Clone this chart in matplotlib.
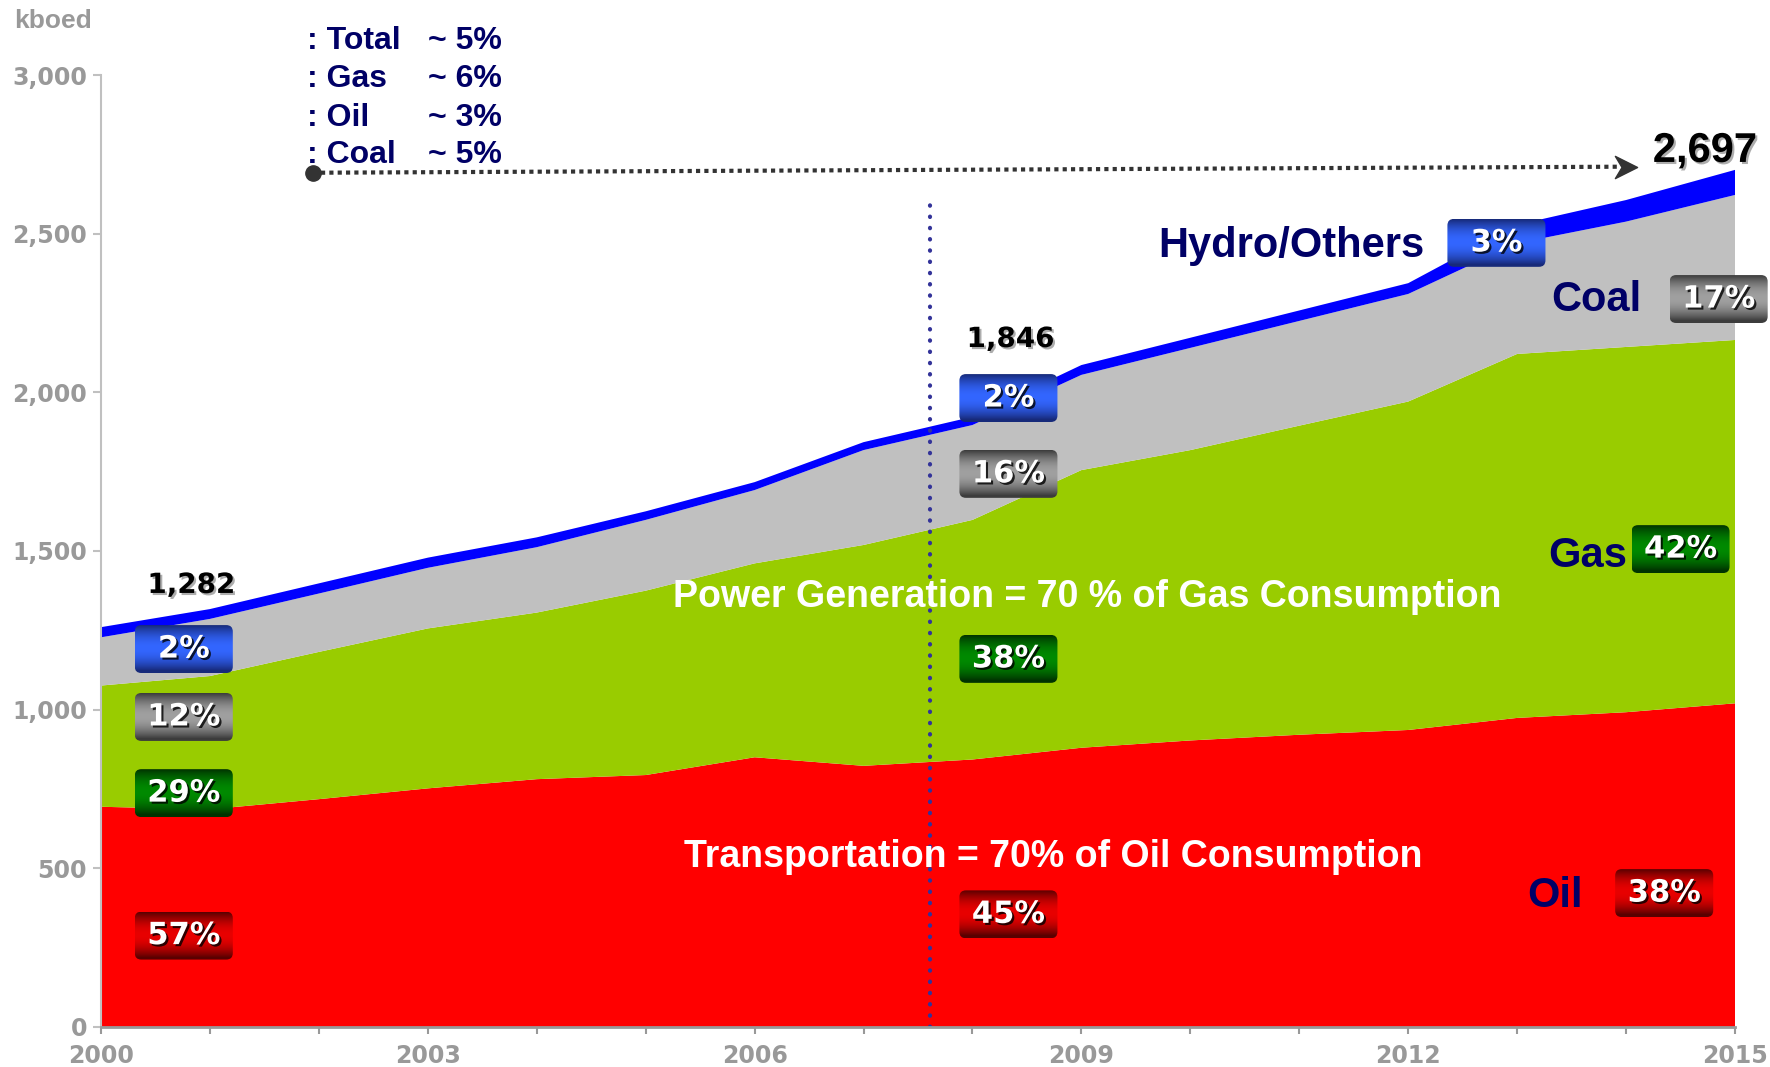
import numpy as np
import matplotlib
matplotlib.use('Agg')
import matplotlib.pyplot as plt
import matplotlib.patheffects as pe
from matplotlib.patches import FancyBboxPatch
from matplotlib.path import Path
from matplotlib.colors import to_rgb

# consumption by fuel, kboed (stacked: oil, gas, coal, hydro/others)
years = np.arange(2000, 2016)
oil = [694, 686, 718, 752, 781, 794, 850, 823, 843, 880, 903, 921, 936, 974, 992, 1020]
gas = [382, 420, 464, 504, 525, 581, 611, 696, 755, 875, 915, 974, 1035, 1147, 1151, 1145]
coal = [152, 180, 184, 191, 206, 223, 231, 299, 299, 300, 322, 330, 339, 349, 395, 457]
hydro = [32, 31, 32, 32, 31, 27, 25, 25, 26, 31, 32, 33, 34, 58, 68, 79]

# share badges (2000, 2008, 2015)
badge_text = ['57%', '29%', '12%', '2%', '45%', '38%', '16%', '2%', '38%', '42%', '17%', '3%']
badge_kind = ['oil', 'gas', 'coal', 'hydro'] * 3
total_labels = ['1,282', '1,846', '2,697']

growth_names = [': Total', ': Gas', ': Oil', ': Coal']
growth_vals = ['~ 5%', '~ 6%', '~ 3%', '~ 5%']

fill_col = {'oil': '#ff0000', 'gas': '#99cc00', 'coal': '#c0c0c0', 'hydro': '#0000ff'}
badge_col = {'oil': ('#5a0000', '#e80000'), 'gas': ('#003300', '#008a00'),
             'coal': ('#3c3c3c', '#a0a0a0'), 'hydro': ('#172a7a', '#3366ff')}
navy = '#000066'

fig = plt.figure(figsize=(17.7, 10.67), dpi=100)
ax = fig.add_axes([101 / 1770, 1 - 1027 / 1067, 1634 / 1770, 952 / 1067])

ax.stackplot(years, oil, gas, coal, hydro,
             colors=[fill_col['oil'], fill_col['gas'], fill_col['coal'], fill_col['hydro']],
             linewidth=0, zorder=1)

# vertical dotted marker line
ax.plot([2007.61, 2007.61], [0, 2614], color='#333399', lw=3, ls=(0, (0.1, 2.6)),
        dash_capstyle='round', zorder=3)

# badges
bx = [2000.76] * 4 + [2008.33] * 4 + [2014.35, 2014.50, 2014.85, 2012.81]
by = [288, 737, 977, 1191, 355, 1160, 1743, 1982, 422, 1506, 2294, 2471]
bw, bh = 0.9, 151
aspect = 3.1513 * 108.93
t = np.linspace(0, 1, 64)
prof = np.sin(np.pi * np.clip(t * 1.05, 0, 1)) ** 0.9
for txt, kind, x, y in zip(badge_text, badge_kind, bx, by):
    dark, light = np.array(to_rgb(badge_col[kind][0])), np.array(to_rgb(badge_col[kind][1]))
    grad = dark[None, :] + (light - dark)[None, :] * prof[:, None]
    grad = grad[:, None, :]
    patch = FancyBboxPatch((x - bw / 2, y - bh / 2), bw, bh,
                           boxstyle='round,pad=0,rounding_size=0.06',
                           mutation_aspect=aspect, transform=ax.transData,
                           facecolor='none', edgecolor='none')
    ax.add_patch(patch)
    im = ax.imshow(grad, extent=(x - bw / 2, x + bw / 2, y - bh / 2, y + bh / 2),
                   aspect='auto', origin='upper', zorder=5, interpolation='bilinear')
    im.set_clip_box(fig.bbox)
    im.set_clip_path(patch)
    ax.text(x, y, txt, ha='center', va='center', color='white', fontsize=22,
            fontweight='bold', family='DejaVu Sans', zorder=6, clip_on=False,
            path_effects=[pe.withSimplePatchShadow(offset=(1.5, -1.5), shadow_rgbFace='black', alpha=0.8)])

# fuel names
lab_font = dict(family='Liberation Sans', fontweight='bold', fontsize=30, color=navy, va='baseline', ha='right')
ax.text(2012.15, 2425, 'Hydro/Others', **lab_font)
ax.text(2014.14, 2257, 'Coal', **lab_font)
ax.text(2014.01, 1451, 'Gas', **lab_font)
ax.text(2013.60, 377, 'Oil', **lab_font)

# in-area notes
ax.text(2009.05, 1324, 'Power Generation = 70 % of Gas Consumption', color='white', fontsize=27,
        fontweight='bold', family='Liberation Sans', ha='center', va='baseline', zorder=4)
ax.text(2008.74, 505, 'Transportation = 70% of Oil Consumption', color='white', fontsize=27,
        fontweight='bold', family='Liberation Sans', ha='center', va='baseline', zorder=4)

# totals
shadow = [pe.withSimplePatchShadow(offset=(1.5, -1.5), shadow_rgbFace='#999999', alpha=0.8)]
ax.text(2000.83, 1393, total_labels[0], ha='center', va='center', fontsize=20, fontweight='bold',
        family='DejaVu Sans', color='black', path_effects=shadow)
ax.text(2008.35, 2168, total_labels[1], ha='center', va='center', fontsize=20, fontweight='bold',
        family='DejaVu Sans', color='black', path_effects=shadow)
ax.text(2015.2, 2726, total_labels[2], ha='right', va='baseline', fontsize=30, fontweight='bold',
        family='Liberation Sans', color='black', path_effects=shadow, clip_on=False)

# growth block
gy = [3081, 2961, 2839, 2724]
for name, val, yy in zip(growth_names, growth_vals, gy):
    ax.text(2001.89, yy, name, ha='left', va='baseline', fontsize=23, fontweight='bold',
            family='Liberation Sans', color=navy, clip_on=False)
    ax.text(2003.68, yy, val, ha='right', va='baseline', fontsize=23, fontweight='bold',
            family='Liberation Sans', color=navy, clip_on=False)

# dotted arrow
ax.plot([2001.943, 2013.95], [2692, 2711], color='#333333', lw=3, ls=(0, (1, 1)), clip_on=False, zorder=7)
ax.plot([2001.943], [2692], marker='o', ms=11, color='#333333', clip_on=False, zorder=7)
head = Path([(-1, 1), (1, 0), (-1, -1), (-0.4, 0), (-1, 1)],
            [Path.MOVETO, Path.LINETO, Path.LINETO, Path.LINETO, Path.CLOSEPOLY])
ax.plot([2014.0], [2711], marker=head, ms=16, color='#333333', clip_on=False, zorder=7)

fig.text(53 / 1770, 1 - 21 / 1067, 'kboed', fontsize=19, fontweight='bold',
         family='Liberation Sans', color='#999999', ha='center', va='center')

# axes styling
ax.set_xlim(2000, 2015)
ax.set_ylim(0, 3000)
ax.set_xticks(years)
ax.set_xticklabels([str(y) if (y - 2000) % 3 == 0 else '' for y in years])
ax.set_yticks(np.arange(0, 3001, 500))
ax.set_yticklabels(['{:,}'.format(v) for v in range(0, 3001, 500)])
for lab in ax.get_xticklabels() + ax.get_yticklabels():
    lab.set_fontweight('bold')
    lab.set_family('DejaVu Sans')
    lab.set_color('#999999')
    lab.set_fontsize(17)
ax.tick_params(axis='x', length=5, width=1.5, color='#999999', pad=7)
ax.tick_params(axis='y', length=6, width=1.5, color='#c0c0c0', pad=4)
for s in ['top', 'right']:
    ax.spines[s].set_visible(False)
ax.spines['left'].set_color('#c0c0c0')
ax.spines['left'].set_linewidth(1.5)
ax.spines['bottom'].set_color('#999999')
ax.spines['bottom'].set_linewidth(2)
ax.spines['bottom'].set_linestyle((0, (1, 1)))
ax.spines['bottom'].set_zorder(8)
ax.set_facecolor('white')

fig.savefig('out.png', dpi=100)
